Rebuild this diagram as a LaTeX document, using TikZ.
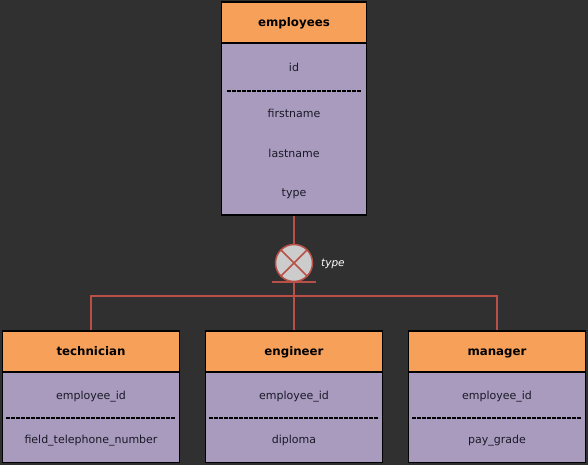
\documentclass[tikz,border=0pt]{standalone}
\usepackage{fontspec}
\setmainfont{DejaVu Sans}
\begin{document}
\begin{tikzpicture}[x=1pt,y=-1pt,
  hdr/.style={draw=black,line width=1.6pt,fill=hdrc,minimum height=41pt,inner sep=0pt,text height=0.88em,text depth=0.12em,font=\fontsize{11.8}{13}\selectfont\bfseries},
  bodybox/.style={draw=black,line width=1.6pt,fill=bodyc,inner sep=0pt},
  fld/.style={font=\fontsize{11}{12}\selectfont,text=txtc,inner sep=0pt,text height=0.75em,text depth=0.22em,yshift=-1.8pt},
  sep/.style={line width=1.2pt,dash pattern=on 3.5pt off 1.5pt},
  conn/.style={draw=linec,line width=1.5pt}]
\definecolor{bg}{RGB}{48,48,48}
\definecolor{hdrc}{RGB}{247,160,90}
\definecolor{bodyc}{RGB}{169,155,189}
\definecolor{linec}{RGB}{184,80,72}
\definecolor{txtc}{RGB}{25,25,40}
\fill[bg] (0,0) rectangle (588,465);
\useasboundingbox (0,0) rectangle (588,465);
% employees
\node[bodybox,minimum width=145pt,minimum height=172pt] (empb) at (294,129) {};
\node[hdr,minimum width=145pt] (emp) at (294,22.5) {employees};
\node[fld] (eid) at (294,67) {id};
\node[fld] (efn) at (294,113) {firstname};
\node[fld] (eln) at (294,153) {lastname};
\node[fld] (ety) at (294,192) {type};
\coordinate (esl) at (227,91); \coordinate (esr) at (361,91);
\draw[sep] (esl) -- (esr);
% disjoint circle
\node[circle,draw=linec,line width=1.5pt,fill=black!20,minimum size=37pt,inner sep=0pt] (d) at (294,263) {};
\draw[linec,line width=1.5pt] (d.north east) -- (d.south west) (d.north west) -- (d.south east);
\coordinate (bl) at (272,282); \coordinate (br) at (316,282);
\draw[linec,line width=1.5pt] (bl) -- (br);
\node[font=\fontsize{10.5}{12}\selectfont\itshape,text=white,anchor=west,inner sep=0pt,yshift=-1pt] (tl) at (321,263) {type};
% subtypes
\foreach \n/\cx/\t/\f in {tech/91/technician/field\_telephone\_number, eng/294/engineer/diploma, man/497/manager/pay\_grade}{
  \node[bodybox,minimum width=177pt,minimum height=91pt] (\n b) at (\cx,417) {};
  \node[hdr,minimum width=177pt] (\n) at (\cx,351.5) {\t};
  \node[fld] (\n id) at (\cx,395) {employee\_id};
  \node[fld] (\n f) at (\cx,439) {\f};
  \coordinate (\n sl) at (\cx-85,418); \coordinate (\n sr) at (\cx+85,418);
  \draw[sep] (\n sl) -- (\n sr);
}
% connectors
\coordinate (j) at (294,296);
\draw[conn] (empb.south) -- (d.north);
\draw[conn] (d.south) -- (eng.north);
\draw[conn] (tech.north) |- (j) -| (man.north);
\end{tikzpicture}
\end{document}
